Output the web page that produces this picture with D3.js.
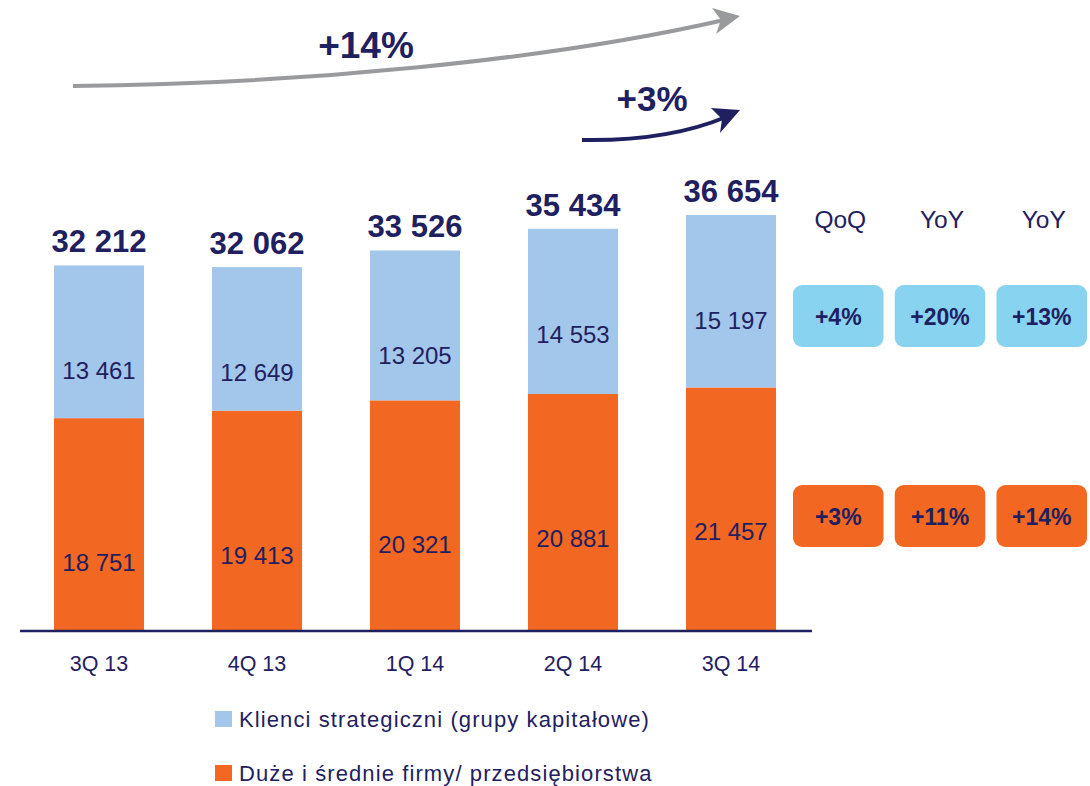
<!DOCTYPE html>
<html>
<head>
<meta charset="utf-8">
<script src="https://cdn.jsdelivr.net/npm/d3@7"></script>
<style>
  html, body { margin: 0; padding: 0; background: #ffffff; }
  svg { display: block; font-family: "Liberation Sans", Arial, sans-serif; }
</style>
</head>
<body>
<svg id="chart" width="1090" height="786"></svg>
<script>
// ---- data ----
const categories = ["3Q 13", "4Q 13", "1Q 14", "2Q 14", "3Q 14"];
const strategic = [13461, 12649, 13205, 14553, 15197];
const midsize = [18751, 19413, 20321, 20881, 21457];
const totals = [32212, 32062, 33526, 35434, 36654];
const seriesNames = ["Klienci strategiczni (grupy kapitałowe)", "Duże i średnie firmy/ przedsiębiorstwa"];
const changeHeaders = ["QoQ", "YoY", "YoY"];
const strategicChanges = ["+4%", "+20%", "+13%"];
const midsizeChanges = ["+3%", "+11%", "+14%"];
const arrowLabels = ["+14%", "+3%"];

// ---- styles ----
const NAVY = "#1f2060";
const BLUE = "#a3c7ea";
const ORANGE = "#f26722";
const BOX_BLUE = "#87d3f0";
const GRAY = "#999a9c";

const svg = d3.select("#chart");

const rows = categories.map((c, i) => ({ cat: c, mid: midsize[i], str: strategic[i], total: totals[i] }));
const stack = d3.stack().keys(["mid", "str"]);
const stacked = stack(rows);

const x = d3.scaleBand().domain(categories).range([20, 810]).paddingInner(0.43).paddingOuter(0.215);
const y = d3.scaleLinear().domain([0, 40000]).range([631, 177]);
const color = d3.scaleOrdinal().domain(["mid", "str"]).range([ORANGE, BLUE]);
const labelDrop = { str: 114, mid: 153 };
const fmt = v => d3.format(",")(v).replace(/,/g, " ");

// bars
const layers = svg.append("g").selectAll("g").data(stacked).join("g").attr("fill", d => color(d.key));
layers.selectAll("rect").data(d => d).join("rect")
  .attr("x", d => x(d.data.cat))
  .attr("y", d => y(d[1]))
  .attr("width", x.bandwidth())
  .attr("height", d => y(d[0]) - y(d[1]));

// inner labels
layers.each(function (layer) {
  d3.select(this).selectAll("text").data(layer).join("text")
    .attr("x", d => x(d.data.cat) + x.bandwidth() / 2)
    .attr("y", d => y(d[1]) + labelDrop[layer.key])
    .attr("text-anchor", "middle")
    .attr("fill", NAVY)
    .attr("font-size", 24)
    .text(d => fmt(d[1] - d[0]));
});

// totals
svg.append("g").selectAll("text").data(rows).join("text")
  .attr("x", d => x(d.cat) + x.bandwidth() / 2)
  .attr("y", d => y(d.total) - 13)
  .attr("text-anchor", "middle")
  .attr("fill", NAVY)
  .attr("font-size", 31)
  .attr("font-weight", "bold")
  .text(d => fmt(d.total));

// x axis
const xAxis = svg.append("g").attr("transform", "translate(0,631)")
  .call(d3.axisBottom(x).tickSize(0).tickPadding(0));
xAxis.select(".domain").attr("stroke", NAVY).attr("stroke-width", 2.5).attr("d", "M20,0H812");
xAxis.selectAll(".tick text")
  .attr("fill", NAVY)
  .attr("font-size", 21.5)
  .attr("font-family", "Liberation Sans, Arial, sans-serif")
  .attr("dy", 0)
  .attr("y", 40);

// legend
const legend = svg.append("g").attr("transform", "translate(215,711)");
const legendKeys = ["str", "mid"];
const li = legend.selectAll("g").data(seriesNames).join("g")
  .attr("transform", (d, i) => `translate(0,${i * 54})`);
li.append("rect").attr("width", 17).attr("height", 16).attr("fill", (d, i) => color(legendKeys[i]));
li.append("text").attr("x", 24).attr("y", 16).attr("fill", NAVY)
  .attr("font-size", 22).attr("letter-spacing", 1.1).text(d => d);

// change table
const colX = d3.scaleBand().domain(d3.range(3)).range([793, 1087]).paddingInner(0.11);
svg.append("g").selectAll("text").data(changeHeaders).join("text")
  .attr("x", (d, i) => colX(i) + colX.bandwidth() / 2 + 2)
  .attr("y", 228)
  .attr("text-anchor", "middle")
  .attr("fill", NAVY)
  .attr("font-size", 24.5)
  .text(d => d);

function boxRow(vals, top, fill) {
  const g = svg.append("g").selectAll("g").data(vals).join("g")
    .attr("transform", (d, i) => `translate(${colX(i)},${top})`);
  g.append("rect").attr("width", colX.bandwidth()).attr("height", 62).attr("rx", 9).attr("fill", fill);
  g.append("text").attr("x", colX.bandwidth() / 2).attr("y", 40)
    .attr("text-anchor", "middle").attr("fill", NAVY)
    .attr("font-size", 23).attr("font-weight", "bold").text(d => d);
}
boxRow(strategicChanges, 285, BOX_BLUE);
boxRow(midsizeChanges, 485, ORANGE);

// growth arrows (annotations)
svg.append("path").attr("d", "M73,86 C300,84 550,60 724,20")
  .attr("fill", "none").attr("stroke", GRAY).attr("stroke-width", 4);
svg.append("path").attr("d", "M740,16 L712,8 L721,20 L716,34 Z").attr("fill", GRAY);
svg.append("text").attr("x", 366).attr("y", 58).attr("text-anchor", "middle")
  .attr("fill", NAVY).attr("font-size", 37).attr("font-weight", "bold").text(arrowLabels[0]);

svg.append("path").attr("d", "M582,140 C640,141 690,132 726,117")
  .attr("fill", "none").attr("stroke", NAVY).attr("stroke-width", 4);
svg.append("path").attr("d", "M740,110 L711,108 L722,119 L720,133 Z").attr("fill", NAVY);
svg.append("text").attr("x", 652).attr("y", 111).attr("text-anchor", "middle")
  .attr("fill", NAVY).attr("font-size", 35).attr("font-weight", "bold").text(arrowLabels[1]);
</script>
</body>
</html>
